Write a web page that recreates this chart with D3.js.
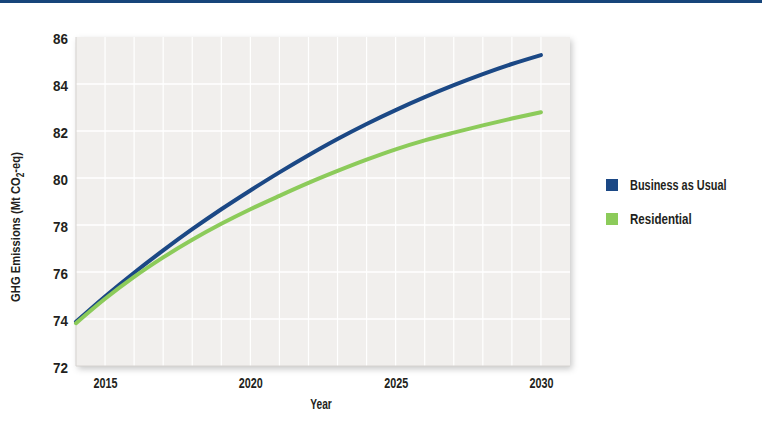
<!DOCTYPE html>
<html><head><meta charset="utf-8">
<script src="https://cdn.jsdelivr.net/npm/d3@7"></script>
<style>
body{margin:0;background:#fff;}
text{font-family:"Liberation Sans",Arial,sans-serif;font-weight:bold;fill:#231f20;}
</style></head>
<body><svg id="c" width="762" height="439"></svg>
<script>
const years = [2014,2015,2016,2017,2018,2019,2020,2021,2022,2023,2024,2025,2026,2027,2028,2029,2030];
const bau = [73.88,74.96,75.97,76.92,77.82,78.67,79.47,80.24,80.97,81.66,82.30,82.89,83.44,83.95,84.42,84.85,85.23];
const residential = [73.82,74.86,75.79,76.62,77.37,78.05,78.67,79.24,79.79,80.30,80.78,81.22,81.60,81.93,82.24,82.53,82.80];
const yTicks = [72,74,76,78,80,82,84,86];
const xTicks = [2015,2020,2025,2030];
const seriesNames = ["Business as Usual","Residential"];
const colors = ["#1b4885","#8ccb5a"];

(function(){
const svg = d3.select("#c");
const pL=76, pR=570, pT=37, pB=366;
const x = d3.scaleLinear().domain([2014,2031]).range([pL,pR]);
const y = d3.scaleLinear().domain([72,86]).range([pB,pT]);

// horizontally squeeze a text element to a target width (condensed look)
function squeeze(node, target, baseTransform){
  const w = node.getComputedTextLength ? node.getComputedTextLength() : node.getBBox().width;
  const s = target / w;
  node.setAttribute("transform", (baseTransform || "") + ` scale(${s},1)`);
  return s;
}

svg.append("rect").attr("x",0).attr("y",0).attr("width",762).attr("height",3).attr("fill","#17457a");

const defs = svg.append("defs");
const f = defs.append("filter").attr("id","sh").attr("x","-5%").attr("y","-5%").attr("width","115%").attr("height","115%");
f.append("feDropShadow").attr("dx",2).attr("dy",3).attr("stdDeviation",3).attr("flood-color","#000").attr("flood-opacity",0.22);

svg.append("rect").attr("x",pL).attr("y",pT).attr("width",pR-pL).attr("height",pB-pT)
  .attr("fill","#f1efed").attr("filter","url(#sh)");

const g = svg.append("g");
g.selectAll("line.v").data(d3.range(2015,2031)).join("line")
  .attr("x1",d=>x(d)).attr("x2",d=>x(d)).attr("y1",pT).attr("y2",pB)
  .attr("stroke","#ffffff").attr("stroke-width",1.2);
g.selectAll("line.h").data(yTicks.slice(1,-1)).join("line")
  .attr("x1",pL).attr("x2",pR).attr("y1",d=>y(d)).attr("y2",d=>y(d))
  .attr("stroke","#ffffff").attr("stroke-width",1.5);
svg.append("line").attr("x1",pL).attr("x2",pL).attr("y1",pT).attr("y2",pB).attr("stroke","#d6d3d0");
svg.append("line").attr("x1",pL).attr("x2",pR).attr("y1",pB).attr("y2",pB).attr("stroke","#d6d3d0");

// y axis
const yAxis = d3.axisLeft(y).tickValues(yTicks).tickSize(0).tickPadding(0);
const ya = svg.append("g").attr("transform",`translate(${pL},0)`).call(yAxis);
ya.select(".domain").remove();
ya.selectAll("text").style("font-size","15.5px").attr("dy","0.42em").each(function(){
  const s = squeeze(this, 15);
  this.setAttribute("x", -8 / s);
});

// x axis
const xAxis = d3.axisBottom(x).tickValues(xTicks).tickFormat(d3.format("d")).tickSize(0).tickPadding(11);
const xa = svg.append("g").attr("transform",`translate(0,${pB})`).call(xAxis);
xa.select(".domain").remove();
xa.selectAll("text").style("font-size","15.5px").each(function(){ squeeze(this, 24); });

const yr = svg.append("text").attr("text-anchor","middle").style("font-size","15px").text("Year");
squeeze(yr.node(), 21.5, "translate(321,409)");

const yt = svg.append("text").attr("text-anchor","middle").style("font-size","13.5px");
yt.append("tspan").text("GHG Emissions (Mt CO");
yt.append("tspan").attr("dy",4).style("font-size","10px").text("2");
yt.append("tspan").attr("dy",-4).text("-eq)");
squeeze(yt.node(), 150, "translate(19.5,227) rotate(-90)");

const line = d3.line().x((d,i)=>x(years[i])).y(d=>y(d)).curve(d3.curveMonotoneX);
[bau,residential].forEach((s,i)=>{
  svg.append("path").datum(s).attr("d",line).attr("fill","none")
    .attr("stroke",colors[i]).attr("stroke-width",4).attr("stroke-linecap","round");
});

const lg = svg.append("g");
const legW = [96.7, 61.7];
seriesNames.forEach((n,i)=>{
  const yy = 185 + i*34;
  lg.append("rect").attr("x",606).attr("y",yy-6).attr("width",12).attr("height",12).attr("fill",colors[i]);
  const t = lg.append("text").attr("dy","0.36em").style("font-size","14.5px").text(n);
  squeeze(t.node(), legW[i], `translate(630,${yy})`);
});
})();
</script></body></html>
